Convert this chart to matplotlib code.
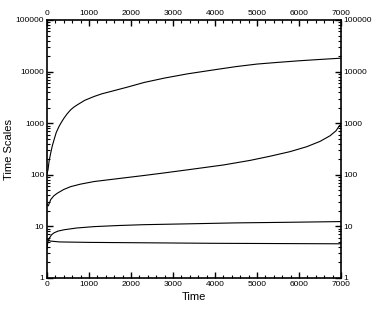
import matplotlib
matplotlib.use("Agg")
import matplotlib.pyplot as plt
from matplotlib.ticker import LogLocator, MultipleLocator, FixedLocator, NullFormatter

plt.rcParams['font.family'] = ['Liberation Sans', 'DejaVu Sans']

# series A (top)
t_a = [0, 24, 50, 88, 125, 167, 220, 286, 345, 405, 480, 564, 640, 722, 900, 1119, 1300,
       1516, 1913, 2310, 2800, 3350, 3970, 4500, 5000, 5500, 6000, 6500, 7000]
v_a = [105, 125, 185, 263, 360, 476, 660, 865, 1050, 1255, 1520, 1820, 2050, 2270, 2780, 3290, 3700,
       4110, 5000, 6150, 7500, 9060, 10800, 12500, 14000, 15100, 16200, 17200, 18200]

# series B
t_b = [0, 30, 88, 160, 246, 400, 564, 800, 1119, 1675, 2310, 2800, 3350, 4200, 4833, 5310, 5786,
       6183, 6500, 6738, 6881, 6960, 7000]
v_b = [27, 25, 33, 39, 44, 52, 59, 66, 74, 84, 97, 109, 125, 155, 190, 229, 281,
       350, 444, 570, 712, 890, 960]

# series C
t_c = [0, 20, 60, 110, 167, 260, 405, 700, 1119, 1700, 2310, 3330, 4500, 5700, 7000]
v_c = [3.6, 5.0, 6.0, 6.9, 7.5, 8.1, 8.6, 9.3, 9.9, 10.4, 10.8, 11.2, 11.7, 12.0, 12.4]

# series D
t_d = [0, 20, 80, 300, 1000, 2500, 4000, 5500, 7000]
v_d = [5.6, 5.5, 5.2, 5.0, 4.9, 4.8, 4.7, 4.65, 4.6]

x_ticks = [0, 1000, 2000, 3000, 4000, 5000, 6000, 7000]
y_ticks = [1, 10, 100, 1000, 10000, 100000]
y_labels = ['1', '10', '100', '1000', '10000', '100000']

fig = plt.figure(figsize=(3.74, 3.19), dpi=100)
ax = fig.add_axes([47/374, 1-278/319, (341-47)/374, (278-20)/319])

for t, v in [(t_a, v_a), (t_b, v_b), (t_c, v_c), (t_d, v_d)]:
    ax.plot(t, v, color='black', lw=0.8)

ax.set_yscale('log')
ax.set_xlim(0, 7000)
ax.set_ylim(1, 100000)
ax.xaxis.set_major_locator(FixedLocator(x_ticks))
ax.xaxis.set_minor_locator(MultipleLocator(200))
ax.yaxis.set_major_locator(FixedLocator(y_ticks))
ax.set_yticklabels(y_labels)
ax.yaxis.set_minor_locator(LogLocator(base=10, subs=range(2, 10)))
ax.yaxis.set_minor_formatter(NullFormatter())

ax.tick_params(which='both', direction='in', top=True, right=True,
               labeltop=True, labelright=True, labelsize=6, pad=2)
ax.tick_params(which='major', length=4, width=1)
ax.tick_params(which='minor', length=2, width=0.8)
for s in ax.spines.values():
    s.set_linewidth(1.2)

ax.set_xlabel('Time', fontsize=8, labelpad=3)
ax.set_ylabel('Time Scales', fontsize=8)
ax.yaxis.set_label_coords(-0.112, 0.5)

fig.savefig('out.png', dpi=100)
